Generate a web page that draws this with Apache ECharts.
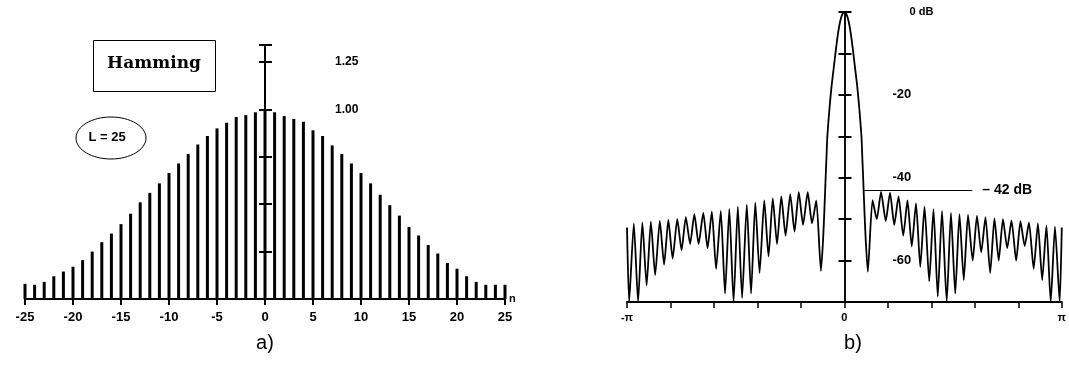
<!DOCTYPE html>
<html><head><meta charset="utf-8">
<script src="https://cdn.jsdelivr.net/npm/echarts@6/dist/echarts.min.js"></script>
<style>html,body{margin:0;padding:0;background:#fff}#c{width:1069px;height:383px}</style>
</head><body><div id="c"></div>
<script>
// ---- a) Hamming window, L = 25 ----
const sampleIndex = [-25,-24,-23,-22,-21,-20,-19,-18,-17,-16,-15,-14,-13,-12,-11,-10,-9,-8,-7,-6,-5,-4,-3,-2,-1,0,1,2,3,4,5,6,7,8,9,10,11,12,13,14,15,16,17,18,19,20,21,22,23,24,25];
const windowValues = [0.08,0.075,0.09,0.12,0.145,0.17,0.205,0.25,0.30,0.345,0.395,0.45,0.51,0.56,0.61,0.665,0.715,0.765,0.815,0.86,0.90,0.93,0.96,0.97,0.985,1.0,0.985,0.965,0.95,0.935,0.89,0.86,0.81,0.765,0.715,0.665,0.61,0.55,0.495,0.44,0.38,0.335,0.285,0.24,0.19,0.16,0.12,0.09,0.075,0.075,0.075];
const windowTickLabels = {'1': '1.00', '1.25': '1.25'};
const windowTitle = 'Hamming';
const lengthNote = 'L = 25';

// ---- b) magnitude spectrum (frequency in units of π/51) ----
const freqUnits = [-51,-50.5,-49.4,-48.4,-47.4,-46.4,-45.4,-44.4,-43.3,-42.3,-41.3,-40.3,-39.2,-38.2,-37.2,-36.2,-35.2,-34.2,-33.1,-32.1,-31.1,-30.1,-29.0,-28.0,-27.0,-26.0,-25.0,-24.0,-22.9,-21.9,-20.9,-19.9,-18.8,-17.8,-16.8,-15.8,-14.8,-13.8,-12.7,-11.7,-10.7,-9.7,-8.6,-7.6,-6.6,-5.5,
  -5.0,-4.7,-4.4,-4.2,-4.0,-3.5,-3.0,-2.5,-2.0,-1.5,-1.0,-0.5,0,0.5,1.0,1.5,2.0,2.5,3.0,3.5,4.0,4.2,4.4,4.7,5.0,
  5.5,6.6,7.6,8.6,9.7,10.7,11.7,12.7,13.8,14.8,15.8,16.8,17.8,18.8,19.9,20.9,21.9,22.9,24.0,25.0,26.0,27.0,28.0,29.0,30.1,31.1,32.1,33.1,34.2,35.2,36.2,37.2,38.2,39.2,40.3,41.3,42.3,43.3,44.4,45.4,46.4,47.4,48.4,49.4,50.5,51];
const magnitudeDb = [-52,-70,-51,-70,-50.8,-66,-50.6,-63.5,-50.4,-61,-50.2,-59.5,-50,-57.5,-49.5,-56,-48.8,-56,-48.5,-57,-48.2,-62,-48,-68,-47.5,-70,-47,-69,-46.5,-68,-46,-63,-45.5,-59,-45,-56,-44.5,-54,-44,-53,-43.5,-51.4,-43.5,-51,-45.5,-62.5,
  -55,-48,-40,-35,-30,-23.3,-17.8,-13.5,-9.1,-5.2,-2.3,-0.6,0,-0.6,-2.3,-5.2,-9.1,-13.5,-17.8,-23.3,-30,-35,-40,-48,-55,
  -62.7,-45.4,-50,-43.4,-50.5,-43.6,-51.4,-44.5,-54,-45.5,-56.6,-46.2,-61.5,-47,-65,-47.6,-68.7,-48,-70,-48.5,-68,-48.8,-64.7,-49,-60,-49.2,-58,-49.5,-63,-49.8,-60,-50,-57,-50.3,-60,-50.5,-56.5,-50.8,-62,-51,-64.7,-51.5,-70,-51.8,-70,-52];
const dbTickLabels = {'0': '{z|0 dB}', '-20': '-20', '-40': '-40', '-60': '-60'};
const freqTickLabels = {'-51': '-π', '0': '0', '51': 'π'};
const sidelobeLevelDb = -43;
const sidelobeLineFrom = 4.45, sidelobeLineTo = 30;
const sidelobeLabel = '– 42 dB';
const captions = ['a)', 'b)'];

const barData = sampleIndex.map((n, i) => [n, windowValues[i]]);
const specData = freqUnits.map((f, i) => [f, magnitudeDb[i]]);
const keyOf = v => String(Math.round(v * 100) / 100);

const black = '#000';
// grid geometry (layout only)
const gA = {left: 25, top: 45, width: 480, height: 254};
const gB = {left: 627, top: 12, width: 435, height: 290};
const offA = -(gA.width / 2);   // put y axis of a) at n = 0
const offB = -(gB.width / 2);   // put y axis of b) at ω = 0

function yPair(grid, off, min, max, interval, labelCfg, tickW, lineW) {
  return [
    {gridIndex: grid, type: 'value', min, max, interval, position: 'left', offset: off,
     axisLine: {onZero: false, lineStyle: {color: black, width: lineW}},
     axisTick: {length: 6, lineStyle: {color: black, width: tickW}},
     axisLabel: labelCfg, splitLine: {show: false}},
    {gridIndex: grid, type: 'value', min, max, interval, position: 'left', offset: off,
     axisLine: {onZero: false, lineStyle: {color: black, width: lineW}},
     axisTick: {inside: true, length: 7, lineStyle: {color: black, width: tickW}},
     axisLabel: {show: false}, splitLine: {show: false}}
  ];
}

const chart = echarts.init(document.getElementById('c'), null, {renderer: 'canvas'});
chart.setOption({
  animation: false,
  backgroundColor: '#fff',
  grid: [gA, gB],
  xAxis: [
    {gridIndex: 0, type: 'value', min: -25, max: 25, interval: 5,
     axisLine: {onZero: false, lineStyle: {color: black, width: 2}},
     axisTick: {length: 6, lineStyle: {color: black, width: 2}},
     axisLabel: {color: black, fontWeight: 'bold', fontSize: 13, margin: 12, fontFamily: 'Liberation Sans', showMinLabel: true, showMaxLabel: true},
     splitLine: {show: false},
     name: 'n', nameLocation: 'end', nameGap: 4,
     nameTextStyle: {color: black, fontWeight: 'bold', fontSize: 11, fontFamily: 'Liberation Sans', padding: [10, 0, 0, 0]}},
    {gridIndex: 1, type: 'value', min: -51, max: 51, interval: 10.2,
     axisLine: {onZero: false, lineStyle: {color: black, width: 2}},
     axisTick: {length: 6, lineStyle: {color: black, width: 1.5}},
     axisLabel: {color: black, fontWeight: 'bold', fontSize: 11, margin: 10, fontFamily: 'Liberation Sans', showMinLabel: true, showMaxLabel: true,
       formatter: v => freqTickLabels[keyOf(v)] || ''},
     splitLine: {show: false}}
  ],
  yAxis: [
    ...yPair(0, offA, 0, 1.34, 0.25,
      {inside: true, margin: 70, color: black, fontWeight: 'bold', fontSize: 12, fontFamily: 'Liberation Sans',
       padding: [0, 0, 7, 0], formatter: v => windowTickLabels[keyOf(v)] || ''}, 2, 2),
    ...yPair(1, offB, -70, 0, 10,
      {inside: true, margin: 48, color: black, fontWeight: 'bold', fontSize: 13, fontFamily: 'Liberation Sans',
       formatter: v => dbTickLabels[keyOf(v)] || '',
       rich: {z: {fontWeight: 'bold', fontSize: 11, fontFamily: 'Liberation Sans', color: black, padding: [0, 0, 0, 17]}}}, 2, 1.5)
  ],
  series: [
    {type: 'bar', xAxisIndex: 0, yAxisIndex: 0, data: barData, barWidth: 3,
     itemStyle: {color: black}, silent: true},
    {type: 'line', xAxisIndex: 1, yAxisIndex: 2, data: specData, showSymbol: false, symbol: 'none',
     smooth: 0.2, lineStyle: {color: black, width: 1.8}, silent: true,
     markLine: {silent: true, symbol: 'none',
       lineStyle: {color: black, width: 1, type: 'solid'},
       label: {show: true, position: 'end', distance: 10, formatter: sidelobeLabel, color: black,
               fontSize: 14, fontWeight: 'bold', fontFamily: 'Liberation Sans', padding: [0, 0, 13, 0]},
       data: [[{coord: [sidelobeLineFrom, sidelobeLevelDb]}, {coord: [sidelobeLineTo, sidelobeLevelDb]}]]}}
  ],
  graphic: [
    {type: 'rect', shape: {x: 93.5, y: 40.5, width: 122, height: 51}, style: {fill: 'none', stroke: black, lineWidth: 1}},
    {type: 'text', x: 154, y: 64, style: {text: windowTitle, font: 'bold 17px "DejaVu Serif"', fill: black, textAlign: 'center', textVerticalAlign: 'middle'}},
    {type: 'ellipse', shape: {cx: 111, cy: 138, rx: 35, ry: 21}, style: {fill: 'none', stroke: black, lineWidth: 1}},
    {type: 'text', x: 107, y: 137, style: {text: lengthNote, font: 'bold 13px "Liberation Sans"', fill: black, textAlign: 'center', textVerticalAlign: 'middle'}},
    {type: 'text', x: 265, y: 343, style: {text: captions[0], font: '20px "Liberation Sans"', fill: black, textAlign: 'center', textVerticalAlign: 'middle'}},
    {type: 'text', x: 853, y: 343, style: {text: captions[1], font: '20px "Liberation Sans"', fill: black, textAlign: 'center', textVerticalAlign: 'middle'}}
  ]
});
</script>
</body></html>
